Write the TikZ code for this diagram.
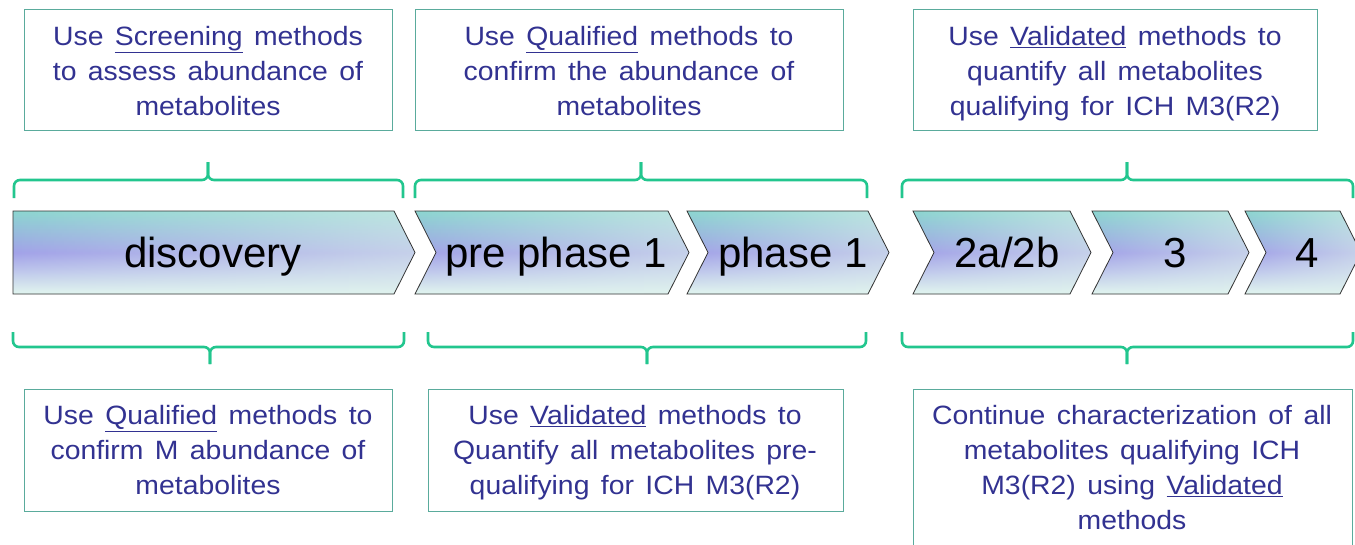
\documentclass[tikz,border=0pt]{standalone}
\usepackage{fontspec}
\setmainfont{Liberation Sans}
\newfontfamily\boxfont[FakeStretch=1.07,WordSpace=1.45]{Liberation Sans}
\usetikzlibrary{fadings}
\definecolor{boxline}{RGB}{90,171,156}
\definecolor{bracec}{RGB}{34,198,142}
\definecolor{txtc}{RGB}{50,50,145}
\definecolor{chtop}{RGB}{140,214,208}
\definecolor{chmid}{RGB}{162,162,232}
\definecolor{chbot}{RGB}{226,246,240}
\definecolor{chlight}{RGB}{222,240,236}
\tikzfading[name=fadeR, left color=transparent!100, right color=transparent!40]
\newcommand{\mychev}[6]{%
  \path[chevfill] (#1,211) -- (#2,211) -- (#2+21,252.5) -- (#2,294) -- (#1,294) -- (#1+#3,252.5) -- cycle;
  \fill[chlight, path fading=fadeR] (#1,211) -- (#2,211) -- (#2+21,252.5) -- (#2,294) -- (#1,294) -- (#1+#3,252.5) -- cycle;
  \draw[chevline] (#1,211) -- (#2,211) -- (#2+21,252.5) -- (#2,294) -- (#1,294) -- (#1+#3,252.5) -- cycle;
  \node[chevtext] (#4) at (#6,267) {#5};
}
\begin{document}
\begin{tikzpicture}[x=1pt,y=-1pt,
  infobox/.style={draw=boxline, line width=0.9pt, fill=white},
  infotext/.style={text=txtc, align=center, font=\boxfont\fontsize{26.5}{35}\selectfont,
    execute at begin node=\strut, execute at end node=\strut, inner sep=0pt},
  bracestyle/.style={draw=bracec, line width=2.6pt, rounded corners=6pt},
  chevfill/.style={top color=chtop, bottom color=chbot, middle color=chmid},
  chevline/.style={draw=black!80, line width=0.8pt},
  chevtext/.style={anchor=base, font=\fontsize{42}{48}\selectfont, text=black, inner sep=0pt}]
\clip (0,0) rectangle (1355,544);
\fill[white] (0,0) rectangle (1355,544);

% top boxes
\draw[infobox] (24,9) rectangle (392,130);
\node[infotext] (t1) at (208,76) {Use \underline{Screening} methods\\to assess abundance of\\metabolites};
\draw[infobox] (415,9) rectangle (843,130);
\node[infotext] (t2) at (629,76) {Use \underline{Qualified} methods to\\confirm the abundance of\\metabolites};
\draw[infobox] (913,9) rectangle (1317,130);
\node[infotext] (t3) at (1115,76) {Use \underline{Validated} methods to\\quantify all metabolites\\qualifying for ICH M3(R2)};

% top braces
\draw[bracestyle] (14,198) |- (208,180) -- (208,162);
\draw[bracestyle] (403,198) |- (208,180) -- (208,162);
\draw[bracestyle] (415,198) |- (641,180) -- (641,162);
\draw[bracestyle] (867,198) |- (641,180) -- (641,162);
\draw[bracestyle] (902,198) |- (1127,180) -- (1127,162);
\draw[bracestyle] (1353,198) |- (1127,180) -- (1127,162);

% chevrons
\mychev{13}{394}{0}{c1}{discovery}{213}
\mychev{415}{668}{21}{c2}{pre phase 1}{556}
\mychev{687}{868}{21}{c3}{phase 1}{793}
\mychev{913}{1070}{21}{c4}{2a/2b}{1007}
\mychev{1092}{1228}{21}{c5}{3}{1175}
\mychev{1245}{1340}{21}{c6}{4}{1307}

% bottom braces
\draw[bracestyle] (13,332) |- (210,347) -- (210,364);
\draw[bracestyle] (404,332) |- (210,347) -- (210,364);
\draw[bracestyle] (428,332) |- (647,347) -- (647,364);
\draw[bracestyle] (866,332) |- (647,347) -- (647,364);
\draw[bracestyle] (902,332) |- (1127,347) -- (1127,364);
\draw[bracestyle] (1353,332) |- (1127,347) -- (1127,364);

% bottom boxes
\draw[infobox] (24,389) rectangle (392,511);
\node[infotext] (b1) at (208,455) {Use \underline{Qualified} methods to\\confirm M abundance of\\metabolites};
\draw[infobox] (428,389) rectangle (843,511);
\node[infotext] (b2) at (635,455) {Use \underline{Validated} methods to\\Quantify all metabolites pre-\\qualifying for ICH M3(R2)};
\draw[infobox] (913,389) rectangle (1352,570);
\node[infotext] (b3) at (1132,473) {Continue characterization of all\\metabolites qualifying ICH\\M3(R2) using \underline{Validated}\\methods};
\end{tikzpicture}
\end{document}
